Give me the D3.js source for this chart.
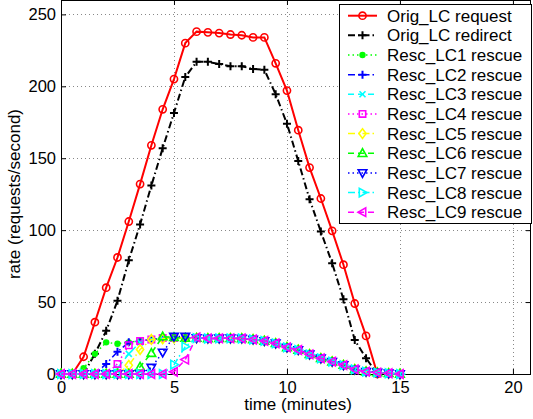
<!DOCTYPE html>
<html><head><meta charset="utf-8">
<script src="https://cdn.jsdelivr.net/npm/d3@7"></script>
<style>body{margin:0;background:#fff}svg{display:block}text{font-family:"Liberation Sans",Arial,sans-serif}</style>
</head><body>
<svg id="chart" width="533" height="419"></svg>
<script>
const time = [0,0.5,1,1.5,2,2.5,3,3.5,4,4.5,5,5.5,6,6.5,7,7.5,8,8.5,9,9.5,10,10.5,11,11.5,12,12.5,13,13.5,14,14.5,15];
const origRequest  = [null,0,12,36,60,81,106,132,159,184,205,230,238,237.5,237,236,235.5,234,234,216,197,169.5,143.5,122,99.5,76,49,26.5,0,null,null];
const origRedirect = [null,null,0,14,30,51,79,104,131,157,181.5,206.5,217,217,215.5,214,214,212,211.5,194.5,174,148,121.5,99,77,52,23.6,11,0,null,null];
const resc1 = [0,0,4,14,22,21,22,23,24,24.5,25,25,25,24.7,24.8,24.8,24.7,24,23,21.3,18.5,16.7,13.7,10.9,8.6,6.2,3.2,1.6,1,0.5,0];
const resc2 = [0,0,0,0,7,15.5,22,23,24,25,25,25,25,24.7,24.8,24.8,24.7,24,23,21.3,18.5,16.7,13.7,10.9,8.6,6.2,3.2,1.6,1,0.5,0];
const resc3 = [0,0,0,0,0,4,14,22,24,25,25,25,25,24.7,24.8,24.8,24.7,24,23,21.3,18.5,16.7,13.7,10.9,8.6,6.2,3.2,1.6,1,0.5,0];
const resc4 = [0,0,0,0,0,7,20,23,24,25,25,25,25,24.7,24.8,24.8,24.7,24,23,21.3,18.5,16.7,13.7,10.9,8.6,6.2,3.2,1.6,1,0.5,0];
const resc5 = [0,0,0,0,0,0,6,17,24,24.5,25,25,25,24.7,24.8,24.8,24.7,24,23,21.3,18.5,16.7,13.7,10.9,8.6,6.2,3.2,1.6,1,0.5,0];
const resc6 = [0,0,0,0,0,0,0,5,14.5,26,25.5,25,25,24.7,24.8,24.8,24.7,24,23,21.3,18.5,16.7,13.7,10.9,8.6,6.2,3.2,1.6,1,0.5,0];
const resc7 = [0,0,0,0,0,0,0,0,4.5,15,26,26,25,24.7,24.8,24.8,24.7,24,23,21.3,18.5,16.7,13.7,10.9,8.6,6.2,3.2,1.6,1,0.5,0];
const resc8 = [0,0,0,0,0,0,0,0,0,0,6.5,19,25,24.7,24.8,24.8,24.7,24,23,21.3,18.5,16.7,13.7,10.9,8.6,6.2,3.2,1.6,1,0.5,0];
const resc9 = [0,0,0,0,0,0,0,0,0,0,1.5,10,25.5,24.7,24.8,24.8,24.7,24,23,21.3,18.5,16.7,13.7,10.9,8.6,6.2,3.2,1.6,1,0.5,0];
const seriesNames = ["Orig_LC request","Orig_LC redirect","Resc_LC1 rescue","Resc_LC2 rescue","Resc_LC3 rescue","Resc_LC4 rescue","Resc_LC5 rescue","Resc_LC6 rescue","Resc_LC7 rescue","Resc_LC8 rescue","Resc_LC9 rescue"];
const seriesValues = [origRequest,origRedirect,resc1,resc2,resc3,resc4,resc5,resc6,resc7,resc8,resc9];
const seriesColors = ["#ff0000","#000000","#00ff00","#0000ff","#00ffff","#ff00ff","#ffff00","#00ff00","#0000ff","#00ffff","#ff00ff"];
const seriesDash = ["solid","dashdot","dot","dashdot","dash","dot","dashdot","dash","dot","dashdot","dash"];
const seriesMarker = ["o","+",".","+","x","s","d","^","v",">","<"];
const xTicks = [0,5,10,15,20];
const yTicks = [0,50,100,150,200,250];

const svg = d3.select("#chart");
const L = 61, R = 531, T = 0, B = 374;
const x = d3.scaleLinear().domain([0,20.8]).range([L,R]);
const y = d3.scaleLinear().domain([0,260]).range([B,T]);

// grid
const grid = svg.append("g");
grid.selectAll(".gx").data(xTicks.filter(d=>d>0)).join("line")
  .attr("x1",d=>Math.round(x(d))+0.5).attr("x2",d=>Math.round(x(d))+0.5).attr("y1",T).attr("y2",B)
  .attr("stroke","#888").attr("stroke-width",1).attr("stroke-dasharray","1,3");
grid.selectAll(".gy").data(yTicks.filter(d=>d>0)).join("line")
  .attr("y1",d=>Math.round(y(d))+0.5).attr("y2",d=>Math.round(y(d))+0.5).attr("x1",L).attr("x2",R)
  .attr("stroke","#888").attr("stroke-width",1).attr("stroke-dasharray","1,3");

// axes
const tickFont = 16.5, labelFont = 17;
svg.append("g").attr("transform",`translate(0,${B})`)
  .call(d3.axisBottom(x).tickValues(xTicks).tickSize(-5).tickPadding(7).tickSizeOuter(0));
svg.append("g").attr("transform",`translate(${L},0)`)
  .call(d3.axisLeft(y).tickValues(yTicks).tickSize(-5).tickPadding(5).tickSizeOuter(0));
svg.append("g").attr("transform",`translate(0,${T})`)
  .call(d3.axisTop(x).tickValues(xTicks).tickSize(-5).tickFormat("").tickSizeOuter(0));
svg.append("g").attr("transform",`translate(${R},0)`)
  .call(d3.axisRight(y).tickValues(yTicks).tickSize(-5).tickFormat("").tickSizeOuter(0));
svg.selectAll(".domain").remove();
svg.selectAll(".tick line").attr("stroke","#000");
svg.selectAll(".tick text").attr("font-size",tickFont).attr("fill","#000").attr("font-family","Liberation Sans, Arial, sans-serif");
svg.append("rect").attr("x",L+0.5).attr("y",T+0.5).attr("width",R-L-1).attr("height",B-T)
  .attr("fill","none").attr("stroke","#000").attr("stroke-width",1);

// labels
svg.append("text").attr("x",298).attr("y",410).attr("text-anchor","middle").attr("font-size",labelFont).text("time (minutes)");
svg.append("text").attr("transform","translate(20,194) rotate(-90)").attr("text-anchor","middle").attr("font-size",labelFont).text("rate (requests/second)");

const dashMap = {solid:null, dash:"6,4", dot:"1.5,3", dashdot:"7,3,1.5,3"};

function marker(g, type, cx, cy, color){
  const sw = 1.6;
  if(type==="o"){
    g.append("circle").attr("cx",cx).attr("cy",cy).attr("r",3.6).attr("fill","none").attr("stroke",color).attr("stroke-width",sw);
  } else if(type==="."){
    g.append("circle").attr("cx",cx).attr("cy",cy).attr("r",3.2).attr("fill",color);
  } else {
    let p;
    const s = 4;
    if(type==="+") p = `M${cx-s},${cy}H${cx+s}M${cx},${cy-s}V${cy+s}`;
    else if(type==="x") p = `M${cx-3},${cy-3}L${cx+3},${cy+3}M${cx-3},${cy+3}L${cx+3},${cy-3}`;
    else if(type==="s") p = `M${cx-3.2},${cy-3.2}h6.4v6.4h-6.4Z`;
    else if(type==="d") p = `M${cx},${cy-4.8}L${cx+3.6},${cy}L${cx},${cy+4.8}L${cx-3.6},${cy}Z`;
    else if(type==="^") p = `M${cx},${cy-4.5}L${cx+4.3},${cy+3.2}L${cx-4.3},${cy+3.2}Z`;
    else if(type==="v") p = `M${cx},${cy+4.5}L${cx+4.3},${cy-3.2}L${cx-4.3},${cy-3.2}Z`;
    else if(type===">") p = `M${cx+4.5},${cy}L${cx-3.2},${cy+4.3}L${cx-3.2},${cy-4.3}Z`;
    else if(type==="<") p = `M${cx-4.5},${cy}L${cx+3.2},${cy+4.3}L${cx+3.2},${cy-4.3}Z`;
    g.append("path").attr("d",p).attr("fill","none").attr("stroke",color).attr("stroke-width",type==="+"?2:sw).attr("stroke-linejoin","miter");
  }
}

const plot = svg.append("g");
seriesValues.forEach((vals,i)=>{
  const pts = time.map((t,k)=>({t, v: vals[k]})).filter(d=>d.v!==null);
  const line = d3.line().x(d=>x(d.t)).y(d=>y(d.v));
  const g = plot.append("g");
  g.append("path").attr("d",line(pts)).attr("fill","none").attr("stroke",seriesColors[i])
    .attr("stroke-width", i<2 ? 2 : 1.5)
    .attr("stroke-dasharray",dashMap[seriesDash[i]]);
  pts.forEach(d=>marker(g, seriesMarker[i], x(d.t), y(d.v), seriesColors[i]));
});

// legend
const lg = svg.append("g");
lg.append("rect").attr("x",339.5).attr("y",4.5).attr("width",192).attr("height",219).attr("fill","#fff").attr("stroke","#000").attr("stroke-width",1);
seriesNames.forEach((name,i)=>{
  const cy = 15.7 + i*19.65;
  lg.append("line").attr("x1",348).attr("x2",377).attr("y1",cy).attr("y2",cy)
    .attr("stroke",seriesColors[i]).attr("stroke-width", i<2 ? 2 : 1.5)
    .attr("stroke-dasharray",dashMap[seriesDash[i]]);
  marker(lg, seriesMarker[i], 362.5, cy, seriesColors[i]);
  lg.append("text").attr("x",387).attr("y",cy+6).attr("font-size",labelFont).attr("fill","#000").text(name);
});
</script>
</body></html>
